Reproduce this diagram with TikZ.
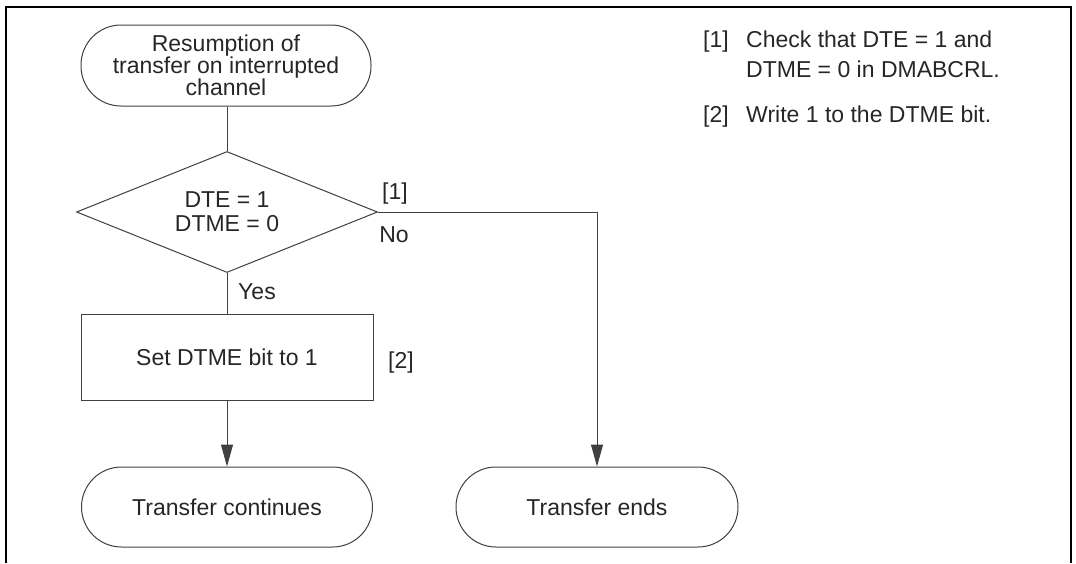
\documentclass[tikz,border=0pt]{standalone}
\usepackage{fontspec}
\setmainfont{Liberation Sans}
\usetikzlibrary{shapes.geometric,arrows.meta}
\begin{document}
\begin{tikzpicture}[x=1pt,y=-1pt,
  every node/.style={font=\fontsize{23}{22}\selectfont, text=black!85},
  line/.style={draw=black!75, line width=1pt},
  arrow/.style={line, -{Triangle[length=22pt,width=12pt]}},
  term/.style={draw=black!75, line width=1pt, rounded corners=40pt, minimum width=288pt, minimum height=80pt, align=center, inner sep=0pt},
  proc/.style={draw=black!75, line width=1pt, minimum width=292pt, minimum height=86pt, align=center, inner sep=0pt},
  dec/.style={draw=black!75, line width=1pt, diamond, aspect=2.5, minimum width=301pt, minimum height=121pt, align=center, inner sep=0pt, font=\fontsize{23}{24}\selectfont},
  lbl/.style={inner sep=0pt},
  note/.style={inner sep=0pt, anchor=base west}]
\useasboundingbox (0,0) rectangle (1076,563);
\draw[line width=2pt, black] (6,563) -- (6,7) -- (1071,7) -- (1071,563);

\node[term, minimum width=290pt, minimum height=81pt] (start) at (226,65.5) {Resumption of\\transfer on interrupted\\channel};
\node[dec] (dec) at (227,212) {DTE = 1\\DTME = 0};
\node[proc] (set) at (227,357) {Set DTME bit to 1};
\node[term, minimum width=291pt] (cont) at (227,507) {Transfer continues};
\node[term, minimum width=282pt] (ends) at (597,507) {Transfer ends};

\draw[line] (dec.north |- start.south) -- (dec.north);
\draw[line] (dec.south) -- (set.north);
\draw[arrow] (set.south) -- (cont.north);
\draw[arrow] (dec.east) -| (ends.north);

\node[lbl] (l1) at (395,194) {[1]};
\node[lbl] (no) at (394,235) {No};
\node[lbl] (yes) at (257,292) {Yes};
\node[lbl] (l2) at (401,363) {[2]};

\node[note] (n1) at (703,47) {[1]};
\node[note] (n1a) at (746,47) {Check that DTE = 1 and};
\node[note] (n1b) at (746,77) {DTME = 0 in DMABCRL.};
\node[note] (n2) at (703,122) {[2]};
\node[note] (n2a) at (746,122) {Write 1 to the DTME bit.};
\end{tikzpicture}
\end{document}
